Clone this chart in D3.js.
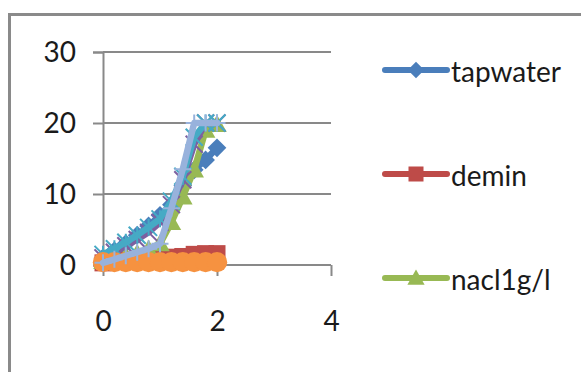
<!DOCTYPE html>
<html><head><meta charset="utf-8">
<script src="https://cdn.jsdelivr.net/npm/d3@7"></script>
<style>
html,body{margin:0;padding:0;background:#fff;overflow:hidden}
svg{display:block}
text{font-family:Lato,"Open Sans",sans-serif;fill:#1a1a1a}
</style></head>
<body>
<svg id="c" width="581" height="372"></svg>
<script>
// ---- data ----
const xValues = [0, 0.2, 0.4, 0.6, 0.8, 1.0, 1.2, 1.4, 1.6, 1.8, 2.0];
const tapwater = [1.0, 2.0, 3.0, 4.2, 5.5, 7.0, 8.5, 11.2, 13.4, 14.8, 16.5];
const demin    = [0.3, 0.5, 0.7, 0.8, 0.9, 1.0, 1.1, 1.2, 1.5, 1.6, 1.6];
const nacl     = [0.5, 0.8, 1.2, 1.6, 2.2, 3.0, 6.0, 9.6, 13.4, 19.0, 19.8];
const series4  = [1.0, 1.8, 2.7, 3.6, 4.6, 6.0, 8.5, 12.0, 17.0, 20.0, 20.0];
const series5  = [1.5, 2.3, 3.2, 4.2, 5.3, 6.5, 9.0, 12.5, 18.0, 20.0, 20.0];
const series6  = [0.4, 0.4, 0.4, 0.4, 0.4, 0.4, 0.4, 0.4, 0.4, 0.4, 0.4];
const series7  = [0.3, 0.8, 1.3, 1.8, 2.3, 3.0, 8.0, 13.5, 20.0, 20.0, 20.0];
const yTicks = [0, 10, 20, 30];
const xTicks = [0, 2, 4];
const legendNames = ["tapwater", "demin", "nacl1g/l"];

const series = [
  {name: "tapwater", values: tapwater, color: "#4A7EBB", marker: "diamond"},
  {name: "demin",    values: demin,    color: "#BE4B48", marker: "square"},
  {name: "nacl1g/l", values: nacl,     color: "#98B954", marker: "triangle"},
  {name: "series4",  values: series4,  color: "#7D60A0", marker: "x"},
  {name: "series5",  values: series5,  color: "#46AAC5", marker: "star"},
  {name: "series6",  values: series6,  color: "#F69240", marker: "circle"},
  {name: "series7",  values: series7,  color: "#98B2DC", marker: "plus"}
];

const svg = d3.select("#c");
// outer frame (cropped at right/bottom)
svg.append("rect").attr("x", 9.5).attr("y", 14.5).attr("width", 600).attr("height", 400)
  .attr("fill", "none").attr("stroke", "#8a8a8a").attr("stroke-width", 3);

const x = d3.scaleLinear().domain([0, 4]).range([103, 331]);
const y = d3.scaleLinear().domain([0, 30]).range([265, 52]);
const axisColor = "#898989";

// gridlines
svg.append("g").selectAll("line").data(yTicks.filter(d => d > 0)).join("line")
  .attr("x1", x(0)).attr("x2", x(4)).attr("y1", d => y(d)).attr("y2", d => y(d))
  .attr("stroke", axisColor).attr("stroke-width", 2);

// y axis
const yAxis = svg.append("g").attr("transform", `translate(${x(0)},0)`)
  .call(d3.axisLeft(y).tickValues(yTicks).tickSize(10).tickPadding(17).tickFormat(d3.format("d")));
yAxis.select(".domain").attr("stroke", axisColor).attr("stroke-width", 2);
yAxis.selectAll(".tick line").attr("stroke", axisColor).attr("stroke-width", 2);
yAxis.selectAll(".tick text").style("font-size", "28px").attr("fill", "#1a1a1a").attr("dy", "0.34em");

// x axis
const xAxis = svg.append("g").attr("transform", `translate(0,${y(0)})`)
  .call(d3.axisBottom(x).tickValues(xTicks).tickSize(11).tickSizeOuter(11).tickPadding(34).tickFormat(d3.format("d")));
xAxis.select(".domain").attr("stroke", axisColor).attr("stroke-width", 2).attr("d", `M${x(0)},0H${x(4)}`);
xAxis.selectAll(".tick line").attr("stroke", axisColor).attr("stroke-width", 2);
xAxis.selectAll(".tick text").style("font-size", "28px").attr("fill", "#1a1a1a").attr("dy", "0.34em")
  .attr("y", 56);

// marker drawer
function drawMarker(g, type, color, s) {
  const h = s / 2;
  if (type === "diamond") {
    g.append("path").attr("d", `M0,${-h*1.1}L${h*1.1},0L0,${h*1.1}L${-h*1.1},0Z`).attr("fill", color);
  } else if (type === "square") {
    g.append("rect").attr("x", -h).attr("y", -h).attr("width", s).attr("height", s).attr("fill", color);
  } else if (type === "triangle") {
    g.append("path").attr("d", `M0,${-h*1.15}L${h*1.15},${h*0.9}L${-h*1.15},${h*0.9}Z`).attr("fill", color);
  } else if (type === "circle") {
    g.append("circle").attr("r", h*1.2).attr("fill", color);
  } else if (type === "x") {
    g.append("path").attr("d", `M${-h},${-h}L${h},${h}M${h},${-h}L${-h},${h}`)
      .attr("stroke", color).attr("stroke-width", 2).attr("fill", "none");
  } else if (type === "star") {
    g.append("path").attr("d", `M${-h},${-h}L${h},${h}M${h},${-h}L${-h},${h}M0,${-h}L0,${h}`)
      .attr("stroke", color).attr("stroke-width", 2).attr("fill", "none");
  } else if (type === "plus") {
    g.append("path").attr("d", `M0,${-h}L0,${h}M${-h},0L${h},0`)
      .attr("stroke", color).attr("stroke-width", 2).attr("fill", "none");
  }
}

const line = d3.line().x((d, i) => x(xValues[i])).y(d => y(d));
series.forEach(s => {
  const g = svg.append("g");
  g.append("path").datum(s.values).attr("d", line)
    .attr("fill", "none").attr("stroke", s.color).attr("stroke-width", 6.5)
    .attr("stroke-linejoin", "round").attr("stroke-linecap", "round");
  s.values.forEach((v, i) => {
    const m = g.append("g").attr("transform", `translate(${x(xValues[i])},${y(v)})`);
    drawMarker(m, s.marker, s.color, 17);
  });
});

// legend
const legY = d3.scalePoint().domain(legendNames).range([70, 278]);
legendNames.forEach(n => {
  const s = series.find(d => d.name === n);
  const ly = legY(n);
  const g = svg.append("g");
  g.append("line").attr("x1", 385).attr("x2", 447).attr("y1", ly).attr("y2", ly)
    .attr("stroke", s.color).attr("stroke-width", 6).attr("stroke-linecap", "round");
  const m = g.append("g").attr("transform", `translate(416,${ly})`);
  drawMarker(m, s.marker, s.color, 15);
  g.append("text").attr("x", 451).attr("y", ly + 2).attr("dy", "0.34em")
    .style("font-size", "28px").text(n);
});
</script>
</body></html>
